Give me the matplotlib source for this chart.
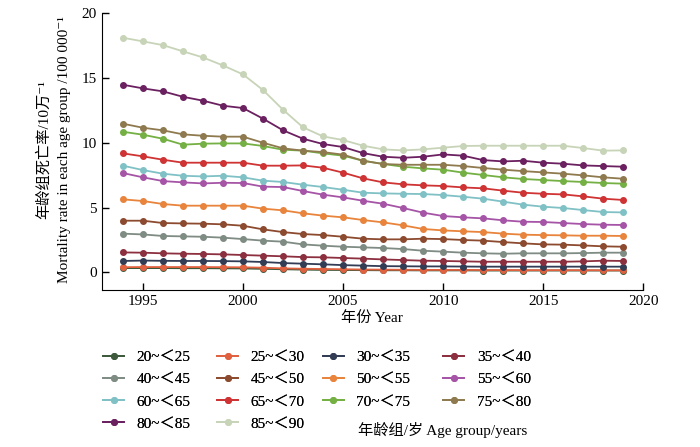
import numpy as np
import matplotlib
matplotlib.use('Agg')
import matplotlib.pyplot as plt

plt.rcParams['font.family'] = ['Liberation Serif', 'DejaVu Serif', 'Noto Sans CJK SC']
plt.rcParams['font.size'] = 11

years = list(range(1994, 2020))

groups = ['20~＜25', '25~＜30', '30~＜35', '35~＜40',
          '40~＜45', '45~＜50', '50~＜55', '55~＜60',
          '60~＜65', '65~＜70', '70~＜75', '75~＜80',
          '80~＜85', '85~＜90']

colors = ['#3d5a3c', '#e0613f', '#323c55', '#8c2f3f',
          '#7f8c84', '#8c4a2f', '#e8843c', '#a655a6',
          '#80c1c6', '#cf3333', '#74b043', '#8e7a4e',
          '#6b2060', '#c8d4b8']

r20 = [0.33, 0.33, 0.33, 0.32, 0.32, 0.31, 0.3, 0.27, 0.24, 0.21, 0.19, 0.18, 0.17,
       0.16, 0.16, 0.15, 0.15, 0.15, 0.14, 0.14, 0.14, 0.14, 0.14, 0.14, 0.14, 0.14]
r25 = [0.4, 0.41, 0.41, 0.41, 0.41, 0.4, 0.39, 0.36, 0.31, 0.28, 0.26, 0.24, 0.22,
       0.21, 0.2, 0.19, 0.19, 0.19, 0.18, 0.18, 0.17, 0.17, 0.17, 0.17, 0.16, 0.16]
r30 = [0.88, 0.91, 0.89, 0.88, 0.88, 0.87, 0.85, 0.8, 0.72, 0.67, 0.62, 0.56, 0.52,
       0.48, 0.47, 0.46, 0.46, 0.45, 0.44, 0.44, 0.44, 0.44, 0.44, 0.44, 0.44, 0.44]
r35 = [1.54, 1.52, 1.47, 1.44, 1.42, 1.39, 1.34, 1.29, 1.24, 1.18, 1.16, 1.11, 1.06,
       1.0, 0.95, 0.9, 0.88, 0.85, 0.82, 0.82, 0.82, 0.82, 0.82, 0.85, 0.9, 0.88]
r40 = [2.99, 2.93, 2.81, 2.78, 2.75, 2.68, 2.57, 2.45, 2.37, 2.16, 2.06, 1.98, 1.93,
       1.88, 1.8, 1.67, 1.6, 1.52, 1.47, 1.44, 1.47, 1.47, 1.47, 1.49, 1.52, 1.52]
r45 = [3.99, 3.99, 3.81, 3.78, 3.76, 3.71, 3.6, 3.32, 3.11, 2.96, 2.88, 2.75, 2.6,
       2.55, 2.55, 2.6, 2.57, 2.5, 2.45, 2.34, 2.24, 2.16, 2.14, 2.08, 2.01, 1.98]
r50 = [5.64, 5.51, 5.28, 5.15, 5.15, 5.15, 5.15, 4.92, 4.79, 4.56, 4.38, 4.25, 4.04,
       3.86, 3.63, 3.35, 3.24, 3.17, 3.11, 2.99, 2.91, 2.88, 2.86, 2.83, 2.83, 2.81]
r55 = [7.67, 7.34, 7.05, 6.95, 6.87, 6.92, 6.9, 6.62, 6.59, 6.28, 6.0, 5.79, 5.53,
       5.3, 4.97, 4.61, 4.35, 4.25, 4.17, 4.02, 3.91, 3.89, 3.81, 3.73, 3.68, 3.66]
r60 = [8.24, 7.9, 7.62, 7.46, 7.41, 7.46, 7.34, 7.08, 6.98, 6.77, 6.59, 6.38, 6.15,
       6.1, 6.07, 6.05, 5.97, 5.84, 5.69, 5.46, 5.23, 5.07, 4.97, 4.81, 4.66, 4.63]
r65 = [9.19, 8.96, 8.7, 8.47, 8.47, 8.47, 8.47, 8.24, 8.24, 8.26, 8.08, 7.7, 7.26,
       6.95, 6.8, 6.72, 6.67, 6.56, 6.49, 6.31, 6.15, 6.07, 6.02, 5.87, 5.69, 5.59]
r70 = [10.86, 10.63, 10.32, 9.86, 9.94, 9.96, 9.96, 9.76, 9.47, 9.4, 9.19, 9.01, 8.62,
       8.37, 8.16, 8.03, 7.93, 7.7, 7.52, 7.34, 7.21, 7.13, 7.05, 6.98, 6.9, 6.85]
r75 = [11.48, 11.17, 10.97, 10.66, 10.55, 10.48, 10.48, 10.01, 9.58, 9.4, 9.29, 9.09, 8.62,
       8.37, 8.31, 8.31, 8.31, 8.21, 8.06, 7.93, 7.82, 7.72, 7.62, 7.49, 7.34, 7.23]
r80 = [14.49, 14.21, 13.98, 13.56, 13.26, 12.87, 12.69, 11.87, 10.97, 10.32, 9.91, 9.68, 9.21,
       8.93, 8.85, 8.93, 9.11, 9.01, 8.67, 8.57, 8.62, 8.47, 8.39, 8.26, 8.21, 8.16]
r85 = [18.12, 17.84, 17.55, 17.07, 16.6, 15.98, 15.29, 14.08, 12.56, 11.2, 10.5, 10.22, 9.78,
       9.5, 9.42, 9.5, 9.63, 9.76, 9.78, 9.78, 9.78, 9.78, 9.78, 9.6, 9.4, 9.42]

rates = [r20, r25, r30, r35, r40, r45, r50, r55, r60, r65, r70, r75, r80, r85]

fig = plt.figure(figsize=(7, 4.47), dpi=100)
ax = fig.add_axes([0.145, 0.351, 0.774, 0.619])

lines = []
for name, col, vals in zip(groups, colors, rates):
    ln, = ax.plot(years, vals, color=col, lw=1.3, marker='o', markersize=4, label=name)
    lines.append(ln)

ax.set_xlim(1992.93, 2020)
ax.set_ylim(-1.37, 20)
ax.set_xticks([1995, 2000, 2005, 2010, 2015, 2020])
ax.set_yticks([0, 5, 10, 15, 20])
ax.spines['top'].set_visible(False)
ax.spines['right'].set_visible(False)
ax.tick_params(direction='in', length=5, width=1, labelsize=11)
ax.set_xlabel('年份 Year', fontsize=11, labelpad=2)

fig.text(0.062, 0.665, '年龄组死亡率/10万⁻¹', rotation=90, ha='center', va='center', fontsize=11)
fig.text(0.092, 0.665, 'Mortality rate in each age group /100 000⁻¹', rotation=90,
         ha='center', va='center', fontsize=11)

# 凡例は列ごとに置く（行優先の並び）
col_x = [0.147, 0.310, 0.461, 0.633]
for c in range(4):
    idx = list(range(c, len(groups), 4))
    leg = fig.legend([lines[i] for i in idx], [groups[i] for i in idx], ncol=1,
                     loc='upper left', bbox_to_anchor=(col_x[c], 0.216), frameon=False,
                     borderpad=0, borderaxespad=0, handlelength=1.4, handletextpad=0.8,
                     labelspacing=0.55, fontsize=11)
    fig.add_artist(leg)

fig.text(0.512, 0.038, '年龄组/岁 Age group/years', ha='left', va='center', fontsize=11)

fig.savefig('out.png', dpi=100)
